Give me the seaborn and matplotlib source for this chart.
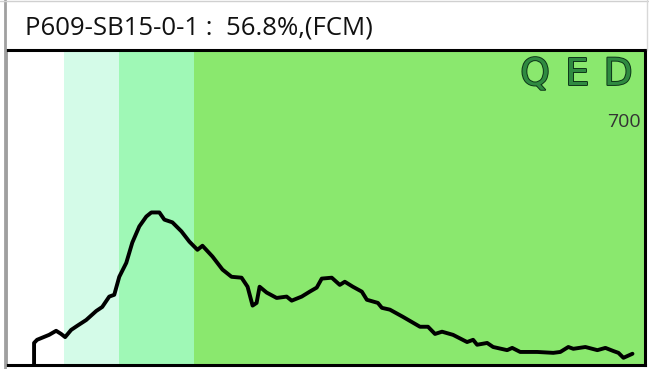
import matplotlib
matplotlib.use("Agg")
import matplotlib.pyplot as plt
import matplotlib.patheffects as pe
from matplotlib.lines import Line2D
import pandas as pd
import seaborn as sns

# Histogram trace: channel vs. count
channel = [11.2, 11.2, 12.4, 17.2, 20.0, 22.0, 23.6, 26.0, 28.4, 32.0, 36.0, 38.4,
           41.2, 43.2, 45.2, 48.0, 50.4, 53.2, 56.0, 58.0, 61.2, 63.2, 66.4, 70.0,
           73.2, 76.4, 78.4, 82.4, 86.4, 90.0, 94.0, 96.4, 98.4, 100.0, 101.2, 104.0,
           108.0, 112.0, 114.0, 118.0, 121.2, 124.0, 126.0, 130.0, 133.2, 135.2, 138.4,
           142.0, 144.0, 148.4, 150.0, 153.2, 158.4, 165.2, 168.4, 171.2, 174.0, 178.4,
           184.0, 186.4, 188.0, 192.0, 194.4, 200.0, 202.0, 205.2, 212.0, 218.4, 221.2,
           224.4, 226.4, 231.2, 236.0, 239.2, 242.4, 244.4, 246.4, 250.0]
count = [0, 49, 56, 67, 76, 69, 62, 78, 87, 100, 120, 129,
         152, 156, 196, 227, 272, 308, 330, 339, 339, 323, 317, 297,
         274, 256, 265, 241, 212, 196, 194, 174, 132, 138, 174, 161,
         149, 152, 143, 152, 163, 172, 192, 194, 178, 185, 174,
         163, 145, 138, 127, 123, 107, 85, 85, 69, 74, 67,
         51, 56, 45, 49, 40, 33, 38, 29, 29, 27, 29,
         40, 36, 40, 33, 38, 31, 27, 16, 25]

# Gate regions along the channel axis
band_edges = [0, 23, 45, 75, 255]
band_colors = ["#ffffff", "#d4fbe8", "#9ff8b6", "#8ae86e"]

title_text = "P609-SB15-0-1 :  56.8%,(FCM)"
max_label = "700"
logo = ["Q", "E", "D"]

sns.set_theme(style="white")
plt.rcParams["font.family"] = ["Open Sans", "DejaVu Sans"]

W, H = 649, 369
fig = plt.figure(figsize=(W / 100, H / 100), dpi=100)
fig.patch.set_facecolor("white")

left, right, top, bottom = 6, 645, 50, 365
ax = fig.add_axes([left / W, (H - bottom) / H, (right - left) / W, (bottom - top) / H])

for i, c in enumerate(band_colors):
    ax.axvspan(band_edges[i], band_edges[i + 1], color=c, lw=0, zorder=0)

df = pd.DataFrame({"channel": channel, "count": count})
sns.lineplot(data=df, x="channel", y="count", ax=ax, color="black",
             linewidth=2.8, zorder=3, estimator=None, sort=False)

ax.set_xlim(0, 255)
ax.set_ylim(0, 700)
ax.set_xlabel("")
ax.set_ylabel("")
ax.set_xticks([])
ax.set_yticks([])
for s in ["top", "bottom", "right"]:
    ax.spines[s].set_color("black")
    ax.spines[s].set_linewidth(2.2)
ax.spines["left"].set_color("#9a9a9a")
ax.spines["left"].set_linewidth(2.0)

# Logo letters
for letter, xc in zip(logo, [0.828, 0.894, 0.958]):
    ax.text(xc, 0.889, letter, transform=ax.transAxes, ha="center", va="baseline",
            fontsize=27, family="DejaVu Sans", color="#2f8a40",
            path_effects=[pe.withStroke(linewidth=1.4, foreground="#0c3418")],
            zorder=4)

ax.text(0.993, 0.771, max_label, transform=ax.transAxes, ha="right", va="center",
        fontsize=14, color="#333333", zorder=4)

fig.text(25 / W, 1 - 28 / H, title_text, ha="left", va="center",
         fontsize=18.5, color="#111111")

# Outer frame lines
fig.add_artist(Line2D([4.5 / W, 4.5 / W], [0, 1], color="#a0a0a0", lw=2.0,
                      transform=fig.transFigure))
fig.add_artist(Line2D([0, 1], [1 - 0.5 / H, 1 - 0.5 / H], color="#d0d0d0", lw=1.0,
                      transform=fig.transFigure))
fig.add_artist(Line2D([646.5 / W, 646.5 / W], [1 - top / H, 1], color="#d8d8d8", lw=1.0,
                      transform=fig.transFigure))

fig.savefig("out.png", dpi=100)
